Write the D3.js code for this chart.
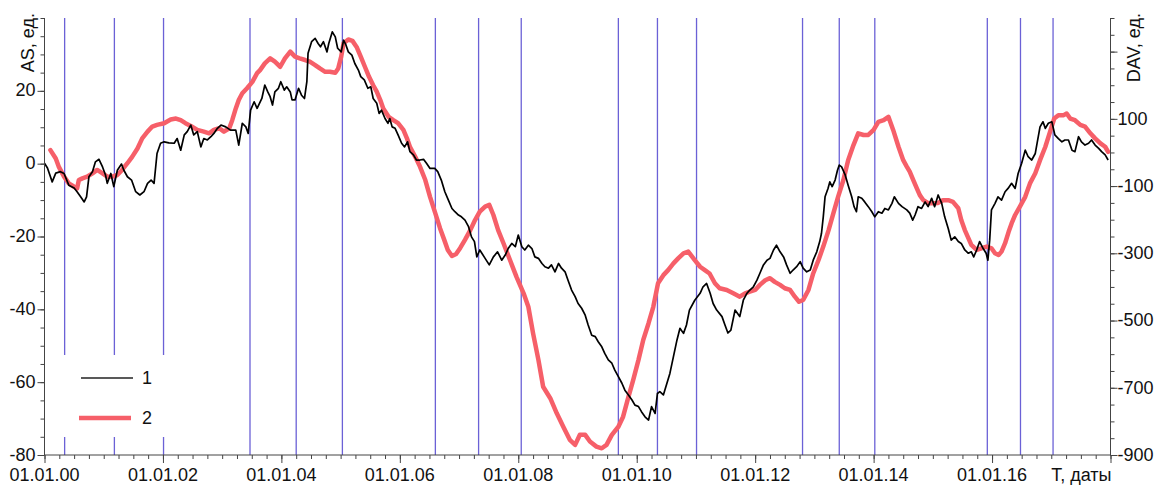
<!DOCTYPE html>
<html>
<head>
<meta charset="utf-8">
<script src="https://cdn.jsdelivr.net/npm/d3@7"></script>
<style>
  html, body { margin: 0; padding: 0; background: #fff; }
  svg { display: block; }
  text { font-family: "Liberation Sans", Arial, sans-serif; fill: #111; }
</style>
</head>
<body>
<svg id="chart" width="1157" height="485"></svg>
<script>
// ---- DATA ----
// Series 1: AS (left axis), [decimal year, value]
const asData = [
[2000.00,0.1],[2000.05,-1.2],[2000.13,-5.0],[2000.19,-2.6],[2000.27,-2.2],[2000.33,-2.7],[2000.41,-5.9],[2000.50,-6.7],[2000.55,-7.7],[2000.61,-9.1],
[2000.67,-10.5],[2000.71,-9.1],[2000.75,-3.6],[2000.81,-2.2],[2000.86,0.5],[2000.92,1.2],[2000.98,-0.9],[2001.03,-3.1],[2001.06,-5.4],[2001.12,-2.7],
[2001.17,-6.3],[2001.23,-1.8],[2001.30,-0.1],[2001.34,-1.8],[2001.40,-3.6],[2001.47,-4.5],[2001.54,-7.7],[2001.61,-8.6],[2001.68,-7.7],[2001.74,-5.4],
[2001.80,-4.5],[2001.85,-5.4],[2001.90,2.8],[2001.96,5.6],[2002.02,6.0],[2002.10,5.7],[2002.19,5.6],[2002.24,6.9],[2002.30,3.7],[2002.36,7.9],
[2002.41,8.8],[2002.47,10.6],[2002.52,7.9],[2002.58,8.8],[2002.64,4.6],[2002.69,6.9],[2002.75,6.5],[2002.81,7.4],[2002.86,8.3],[2002.92,9.7],
[2002.98,10.6],[2003.06,10.1],[2003.14,9.2],[2003.23,9.2],[2003.28,5.1],[2003.34,11.1],[2003.40,10.1],[2003.44,8.3],[2003.48,14.7],[2003.54,17.0],
[2003.59,15.2],[2003.67,17.9],[2003.72,21.6],[2003.77,19.7],[2003.81,18.4],[2003.85,16.1],[2003.89,19.7],[2003.95,20.7],[2003.99,22.5],[2004.05,20.2],
[2004.09,21.1],[2004.15,19.7],[2004.18,17.5],[2004.23,17.5],[2004.29,20.7],[2004.34,18.8],[2004.39,17.9],[2004.43,22.5],[2004.45,30.3],[2004.51,33.5],
[2004.57,34.4],[2004.62,33.0],[2004.66,32.1],[2004.71,33.5],[2004.77,30.7],[2004.80,33.0],[2004.86,36.2],[2004.91,34.8],[2004.95,31.7],[2005.01,30.7],
[2005.05,33.9],[2005.09,32.6],[2005.13,30.7],[2005.19,29.8],[2005.24,27.5],[2005.30,25.7],[2005.34,23.9],[2005.40,23.0],[2005.46,20.7],[2005.51,21.1],
[2005.55,17.9],[2005.61,16.6],[2005.65,13.8],[2005.69,14.7],[2005.75,12.4],[2005.80,11.1],[2005.83,12.4],[2005.87,10.1],[2005.92,9.7],[2005.97,7.9],
[2006.03,5.6],[2006.08,4.6],[2006.13,6.0],[2006.17,3.3],[2006.23,2.4],[2006.28,1.0],[2006.34,1.0],[2006.40,1.2],[2006.45,0.1],[2006.51,-1.3],
[2006.59,-1.3],[2006.64,-2.2],[2006.70,-4.5],[2006.76,-7.7],[2006.82,-10.0],[2006.88,-12.3],[2006.93,-13.2],[2006.99,-14.1],[2007.04,-14.6],[2007.10,-15.5],
[2007.16,-17.3],[2007.21,-20.1],[2007.26,-21.4],[2007.30,-25.6],[2007.35,-23.7],[2007.44,-26.0],[2007.51,-27.8],[2007.58,-25.6],[2007.65,-24.2],[2007.72,-26.5],
[2007.78,-25.1],[2007.83,-23.3],[2007.89,-21.9],[2007.95,-22.8],[2008.00,-19.6],[2008.06,-22.8],[2008.11,-23.7],[2008.17,-22.4],[2008.23,-23.3],[2008.28,-25.6],
[2008.34,-26.0],[2008.40,-27.4],[2008.45,-28.3],[2008.51,-28.7],[2008.56,-27.8],[2008.62,-29.7],[2008.68,-27.4],[2008.73,-28.7],[2008.79,-29.7],[2008.84,-32.0],
[2008.90,-34.7],[2008.96,-36.5],[2009.01,-38.4],[2009.07,-39.7],[2009.13,-41.6],[2009.18,-44.3],[2009.24,-47.1],[2009.30,-47.5],[2009.35,-48.9],[2009.41,-50.3],
[2009.46,-52.1],[2009.52,-53.9],[2009.58,-54.8],[2009.63,-56.7],[2009.69,-58.5],[2009.75,-60.3],[2009.80,-62.2],[2009.86,-63.5],[2009.92,-64.9],[2009.97,-66.3],
[2010.03,-66.7],[2010.08,-68.1],[2010.14,-69.5],[2010.20,-70.4],[2010.25,-66.7],[2010.31,-68.6],[2010.35,-63.1],[2010.39,-62.6],[2010.45,-63.5],[2010.51,-60.3],
[2010.56,-57.6],[2010.62,-53.0],[2010.68,-48.4],[2010.73,-45.2],[2010.79,-46.6],[2010.84,-44.3],[2010.89,-40.2],[2010.98,-37.5],[2011.07,-35.6],[2011.12,-33.8],
[2011.18,-32.9],[2011.24,-35.6],[2011.29,-38.4],[2011.35,-40.2],[2011.44,-42.0],[2011.49,-44.3],[2011.54,-46.5],[2011.59,-45.7],[2011.66,-40.2],[2011.74,-42.0],
[2011.80,-37.5],[2011.86,-35.6],[2011.91,-34.7],[2011.97,-33.8],[2012.03,-32.0],[2012.08,-30.1],[2012.14,-27.8],[2012.20,-26.5],[2012.25,-26.0],[2012.31,-23.7],
[2012.36,-22.4],[2012.42,-24.2],[2012.48,-25.6],[2012.53,-27.8],[2012.59,-30.1],[2012.64,-29.2],[2012.70,-28.3],[2012.76,-26.9],[2012.81,-28.7],[2012.87,-29.7],
[2012.93,-29.2],[2012.98,-26.5],[2013.04,-24.2],[2013.09,-21.4],[2013.12,-19.1],[2013.15,-14.6],[2013.18,-9.1],[2013.23,-6.8],[2013.26,-5.0],[2013.30,-6.3],
[2013.35,-4.5],[2013.39,-1.8],[2013.42,-0.4],[2013.46,-0.9],[2013.52,-3.1],[2013.57,-5.9],[2013.63,-9.1],[2013.67,-11.8],[2013.71,-13.2],[2013.74,-9.1],
[2013.80,-9.5],[2013.85,-10.5],[2013.91,-11.8],[2013.97,-13.2],[2014.02,-14.6],[2014.08,-13.2],[2014.14,-13.6],[2014.19,-12.3],[2014.25,-12.7],[2014.31,-10.9],
[2014.35,-9.1],[2014.42,-10.9],[2014.48,-11.8],[2014.56,-12.7],[2014.61,-13.6],[2014.66,-15.5],[2014.70,-14.1],[2014.75,-11.8],[2014.81,-12.3],[2014.87,-10.5],
[2014.92,-11.8],[2014.98,-9.5],[2015.03,-11.8],[2015.09,-8.6],[2015.15,-10.9],[2015.20,-14.6],[2015.26,-17.8],[2015.31,-21.0],[2015.37,-20.1],[2015.43,-21.4],
[2015.48,-21.9],[2015.54,-23.7],[2015.60,-24.6],[2015.65,-24.2],[2015.69,-25.6],[2015.74,-23.7],[2015.79,-21.4],[2015.85,-23.3],[2015.90,-24.6],[2015.93,-26.5],
[2015.96,-21.0],[2015.99,-12.7],[2016.05,-10.9],[2016.10,-9.1],[2016.16,-10.0],[2016.22,-7.7],[2016.27,-6.8],[2016.33,-5.4],[2016.39,-6.8],[2016.44,-2.7],
[2016.50,0.1],[2016.56,3.7],[2016.61,1.9],[2016.67,1.0],[2016.73,2.8],[2016.76,5.6],[2016.81,10.1],[2016.86,11.5],[2016.90,9.7],[2016.95,11.1],
[2017.01,11.5],[2017.06,7.9],[2017.12,6.9],[2017.18,6.0],[2017.23,6.5],[2017.29,6.5],[2017.35,3.7],[2017.40,3.3],[2017.46,7.4],[2017.51,6.0],
[2017.57,5.1],[2017.63,5.6],[2017.68,6.5],[2017.74,5.1],[2017.80,4.2],[2017.85,3.3],[2017.91,2.4],[2017.96,1.0]
];

// Series 2: DAV (right axis), [decimal year, value]
const davData = [
[2000.10,7],[2000.19,-18],[2000.24,-42],[2000.33,-72],[2000.41,-92],[2000.50,-102],[2000.55,-107],[2000.58,-82],[2000.64,-77],[2000.72,-72],
[2000.81,-62],[2000.89,-52],[2000.98,-62],[2001.06,-72],[2001.14,-72],[2001.23,-67],[2001.31,-52],[2001.40,-32],[2001.48,-13],[2001.57,12],
[2001.65,42],[2001.74,62],[2001.82,77],[2001.90,82],[2002.02,87],[2002.13,98],[2002.22,101],[2002.30,96],[2002.38,87],[2002.47,79],
[2002.58,67],[2002.69,62],[2002.78,57],[2002.86,67],[2002.95,72],[2003.03,62],[2003.12,72],[2003.17,96],[2003.23,131],[2003.28,156],
[2003.34,176],[2003.42,191],[2003.51,210],[2003.59,236],[2003.64,245],[2003.72,265],[2003.81,280],[2003.89,270],[2003.98,255],[2004.06,280],
[2004.15,300],[2004.23,285],[2004.31,280],[2004.40,275],[2004.48,270],[2004.57,260],[2004.65,250],[2004.74,240],[2004.82,240],[2004.91,237],
[2004.96,250],[2005.01,285],[2005.05,325],[2005.13,336],[2005.20,332],[2005.27,314],[2005.34,285],[2005.41,255],[2005.48,225],[2005.55,200],
[2005.61,181],[2005.67,156],[2005.72,131],[2005.81,106],[2005.89,96],[2005.97,87],[2006.06,67],[2006.12,42],[2006.17,17],[2006.26,-13],
[2006.34,-42],[2006.43,-82],[2006.51,-132],[2006.59,-176],[2006.68,-226],[2006.75,-260],[2006.81,-290],[2006.88,-308],[2006.95,-302],[2007.02,-284],
[2007.10,-260],[2007.19,-231],[2007.27,-201],[2007.35,-176],[2007.44,-161],[2007.51,-156],[2007.58,-186],[2007.66,-231],[2007.75,-270],[2007.86,-320],
[2007.97,-370],[2008.09,-419],[2008.17,-459],[2008.25,-538],[2008.34,-617],[2008.42,-697],[2008.54,-731],[2008.65,-776],[2008.76,-816],[2008.87,-855],
[2008.96,-870],[2009.04,-840],[2009.13,-840],[2009.21,-860],[2009.32,-875],[2009.41,-880],[2009.49,-870],[2009.58,-840],[2009.69,-816],[2009.77,-786],
[2009.86,-727],[2009.94,-677],[2010.03,-617],[2010.11,-558],[2010.20,-508],[2010.28,-459],[2010.36,-389],[2010.45,-365],[2010.53,-350],[2010.62,-330],
[2010.70,-315],[2010.79,-300],[2010.87,-295],[2010.98,-320],[2011.07,-340],[2011.15,-350],[2011.23,-360],[2011.32,-389],[2011.40,-404],[2011.52,-409],
[2011.63,-419],[2011.74,-429],[2011.83,-419],[2011.91,-414],[2012.00,-409],[2012.08,-394],[2012.17,-380],[2012.25,-374],[2012.33,-385],[2012.42,-394],
[2012.50,-404],[2012.59,-409],[2012.67,-429],[2012.74,-444],[2012.81,-439],[2012.90,-409],[2012.98,-360],[2013.07,-320],[2013.15,-280],[2013.24,-231],
[2013.32,-181],[2013.40,-132],[2013.49,-82],[2013.57,-23],[2013.66,22],[2013.74,57],[2013.83,52],[2013.91,52],[2014.00,67],[2014.08,91],
[2014.17,96],[2014.25,106],[2014.33,67],[2014.42,17],[2014.50,-23],[2014.56,-42],[2014.61,-57],[2014.67,-82],[2014.73,-107],[2014.78,-127],
[2014.84,-142],[2014.92,-151],[2015.01,-151],[2015.09,-150],[2015.17,-142],[2015.26,-142],[2015.34,-147],[2015.43,-166],[2015.48,-201],[2015.54,-231],
[2015.60,-255],[2015.65,-275],[2015.74,-290],[2015.82,-285],[2015.91,-280],[2015.99,-285],[2016.05,-300],[2016.11,-305],[2016.16,-295],[2016.22,-270],
[2016.28,-236],[2016.33,-211],[2016.39,-186],[2016.47,-161],[2016.56,-132],[2016.64,-92],[2016.73,-62],[2016.81,-23],[2016.90,17],[2016.98,62],
[2017.05,101],[2017.12,111],[2017.21,111],[2017.26,116],[2017.32,101],[2017.40,96],[2017.49,82],[2017.57,77],[2017.66,57],[2017.74,42],
[2017.83,27],[2017.91,17],[2017.96,2]
];

// Event dates (vertical lines), decimal years
const eventYears = [2000.34, 2001.18, 2002.01, 2003.47, 2004.25, 2005.03, 2006.60, 2007.33, 2008.05,
                    2009.69, 2010.35, 2011.01, 2012.80, 2013.42, 2014.02, 2015.92, 2016.48, 2017.03];

const xTickYears = [2000, 2002, 2004, 2006, 2008, 2010, 2012, 2014, 2016];
const xTickLabels = ["01.01.00", "01.01.02", "01.01.04", "01.01.06", "01.01.08", "01.01.10", "01.01.12", "01.01.14", "01.01.16"];
const leftTicks = [-80, -60, -40, -20, 0, 20];
const rightTicks = [-900, -700, -500, -300, -100, 100];
const legendLabels = ["1", "2"];
const axisTitles = { left: "AS, ед.", right: "DAV, ед.", bottom: "T, даты" };

// ---- LAYOUT ----
const L = 44.5, R = 1110.5, T = 18, B = 455;
const svg = d3.select("#chart");

const x = d3.scaleLinear().domain([2000, 2018]).range([L, R]);
const yL = d3.scaleLinear().domain([-80, 40]).range([B, T]);
const yR = d3.scaleLinear().domain([-900, 400]).range([B, T]);

const axisColor = "#444";
const fontSize = 18;
const fmt = d => String(d); // plain hyphen-minus as in the reference

// Vertical event lines
svg.append("g").selectAll("line").data(eventYears).join("line")
  .attr("x1", d => x(d)).attr("x2", d => x(d))
  .attr("y1", T).attr("y2", B)
  .attr("stroke", "#5b50d2").attr("stroke-width", 1.3).attr("stroke-opacity", 0.9);

// Legend background (hides vertical lines behind legend)
svg.append("rect").attr("x", L + 2).attr("y", 355).attr("width", 155).attr("height", 82).attr("fill", "#fff");

// Red line (DAV)
const lineR = d3.line().x(d => x(d[0])).y(d => yR(d[1]));
svg.append("path").datum(davData).attr("d", lineR)
  .attr("fill", "none").attr("stroke", "#f65f69").attr("stroke-width", 4.5)
  .attr("stroke-linejoin", "round").attr("stroke-linecap", "round");

// Black line (AS)
const lineL = d3.line().x(d => x(d[0])).y(d => yL(d[1]));
svg.append("path").datum(asData).attr("d", lineL)
  .attr("fill", "none").attr("stroke", "#000").attr("stroke-width", 1.7)
  .attr("stroke-linejoin", "round");

// Left axis
const gL = svg.append("g").attr("transform", `translate(${L},0)`);
gL.call(d3.axisLeft(yL).tickValues(d3.range(-80, 41, 5)).tickSize(4).tickFormat(""));
gL.call(g => g.select(".domain").remove());
gL.append("g").call(d3.axisLeft(yL).tickValues(leftTicks).tickSize(7).tickFormat(fmt))
  .call(g => g.select(".domain").remove());
gL.append("line").attr("x1", 0).attr("x2", 0).attr("y1", T).attr("y2", B).attr("stroke", axisColor);

// Right axis
const gR = svg.append("g").attr("transform", `translate(${R},0)`);
gR.call(d3.axisRight(yR).tickValues(d3.range(-900, 401, 50)).tickSize(4).tickFormat(""));
gR.call(g => g.select(".domain").remove());
gR.append("g").call(d3.axisRight(yR).tickValues(rightTicks.concat([300])).tickSize(7)
    .tickFormat(d => rightTicks.includes(d) ? fmt(d) : ""))
  .call(g => g.select(".domain").remove());
gR.append("line").attr("x1", 0).attr("x2", 0).attr("y1", T).attr("y2", B).attr("stroke", axisColor);

// Bottom axis
const gB = svg.append("g").attr("transform", `translate(0,${B})`);
gB.call(d3.axisBottom(x).tickValues(d3.range(2000, 2018.01, 0.25)).tickSize(4).tickFormat(""));
gB.call(g => g.select(".domain").remove());
gB.append("g").call(d3.axisBottom(x).tickValues(xTickYears.concat([2018])).tickSize(8).tickFormat(""))
  .call(g => g.select(".domain").remove());
gB.append("line").attr("x1", L).attr("x2", R).attr("y1", 0).attr("y2", 0).attr("stroke", axisColor);

// Style all ticks
svg.selectAll(".tick line").attr("stroke", axisColor);
svg.selectAll(".tick text").attr("font-size", fontSize).attr("font-family", '"Liberation Sans", Arial, sans-serif').attr("fill", "#111");
gL.selectAll(".tick text").attr("x", -9).attr("dy", "0.28em");
gR.selectAll(".tick text").attr("x", 7).attr("dy", "0.3em");

// X tick labels
svg.append("g").selectAll("text").data(xTickYears).join("text")
  .attr("x", d => x(d)).attr("y", 481)
  .attr("text-anchor", "middle").attr("font-size", fontSize)
  .text((d, i) => xTickLabels[i]);

// Axis titles
svg.append("text").attr("x", R + 1).attr("y", 481).attr("text-anchor", "end")
  .attr("font-size", fontSize).text(axisTitles.bottom);
svg.append("text").attr("transform", `translate(34,13) rotate(-90)`).attr("text-anchor", "end")
  .attr("font-size", fontSize).text(axisTitles.left);
svg.append("text").attr("transform", `translate(1140,13) rotate(-90)`).attr("text-anchor", "end")
  .attr("font-size", fontSize).text(axisTitles.right);

// Legend
const legend = svg.append("g");
const legendItems = [
  { y: 378, x1: 81, x2: 133, color: "#222", w: 1.6 },
  { y: 418, x1: 79, x2: 131, color: "#f65f69", w: 4.5 }
];
legend.selectAll("line").data(legendItems).join("line")
  .attr("x1", d => d.x1).attr("x2", d => d.x2).attr("y1", d => d.y).attr("y2", d => d.y)
  .attr("stroke", d => d.color).attr("stroke-width", d => d.w);
legend.selectAll("text").data(legendItems).join("text")
  .attr("x", 142).attr("y", d => d.y).attr("dy", "0.35em")
  .attr("font-size", fontSize).text((d, i) => legendLabels[i]);
</script>
</body>
</html>
